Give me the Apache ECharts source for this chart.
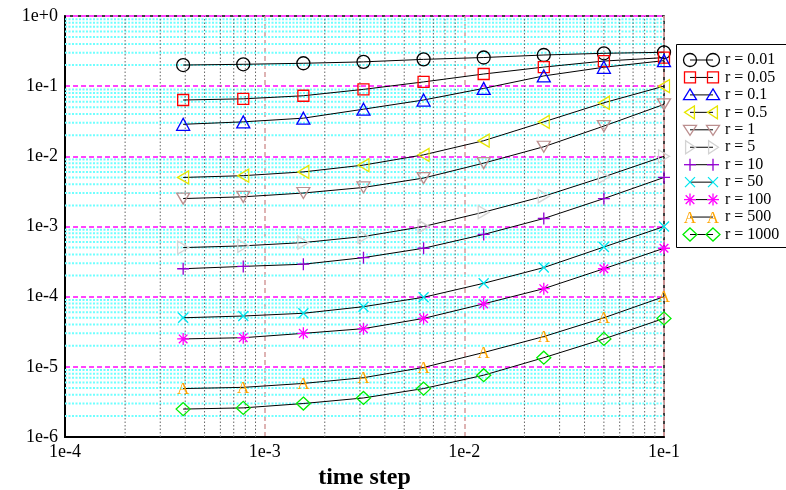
<!DOCTYPE html>
<html>
<head>
<meta charset="utf-8">
<script src="https://cdn.jsdelivr.net/npm/echarts@6/dist/echarts.min.js"></script>
<style>
html,body{margin:0;padding:0;background:#fff;}
#chart{width:786px;height:490px;}
</style>
</head>
<body>
<div id="chart"></div>
<script>
// ---- data ----
const timeSteps = [0.000390625, 0.00078125, 0.0015625, 0.003125, 0.00625, 0.0125, 0.025, 0.05, 0.1];
const seriesNames = ['r = 0.01','r = 0.05','r = 0.1','r = 0.5','r = 1','r = 5','r = 10','r = 50','r = 100','r = 500','r = 1000'];
const r001  = [0.2, 0.205, 0.212, 0.222, 0.241, 0.256, 0.278, 0.294, 0.304];
const r005  = [0.0635, 0.066, 0.073, 0.09, 0.115, 0.149, 0.187, 0.228, 0.255];
const r01   = [0.0286, 0.031, 0.035, 0.047, 0.0635, 0.093, 0.14, 0.186, 0.231];
const r05   = [0.005, 0.0053, 0.006, 0.0075, 0.0105, 0.0167, 0.031, 0.058, 0.1];
const r1    = [0.0025, 0.00265, 0.003, 0.0036, 0.0049, 0.008, 0.0137, 0.027, 0.055];
const r5    = [0.0005, 0.00053, 0.00059, 0.00072, 0.001, 0.0016, 0.0027, 0.0051, 0.01];
const r10   = [0.00025, 0.00027, 0.00029, 0.00036, 0.00049, 0.00077, 0.0013, 0.0025, 0.005];
const r50   = [5e-5, 5.3e-5, 5.8e-5, 7.2e-5, 9.8e-5, 1.55e-4, 2.6e-4, 5.1e-4, 1e-3];
const r100  = [2.5e-5, 2.6e-5, 3e-5, 3.5e-5, 4.9e-5, 7.9e-5, 1.3e-4, 2.5e-4, 4.9e-4];
const r500  = [4.9e-6, 5.1e-6, 5.8e-6, 7e-6, 9.8e-6, 1.6e-5, 2.7e-5, 5e-5, 1e-4];
const r1000 = [2.5e-6, 2.6e-6, 3e-6, 3.6e-6, 4.9e-6, 7.6e-6, 1.35e-5, 2.5e-5, 4.9e-5];
const xDecades = [1e-4, 1e-3, 1e-2, 1e-1];
const yDecades = [1e-6, 1e-5, 1e-4, 1e-3, 1e-2, 1e-1, 1];

const seriesValues = [r001, r005, r01, r05, r1, r5, r10, r50, r100, r500, r1000];
const X_MIN = xDecades[0], X_MAX = xDecades[xDecades.length-1];
const Y_MIN = yDecades[0], Y_MAX = yDecades[yDecades.length-1];

// ---- marker shapes (unit box -1..1) ----
const d = 0.72;
const SH = {
  triUp:   [{pts:[[0,-1],[1,0.8],[-1,0.8]], closed:true}],
  triLeft: [{pts:[[-1,0],[0.8,-1],[0.8,1]], closed:true}],
  triDown: [{pts:[[-1,-0.8],[1,-0.8],[0,1]], closed:true}],
  triRight:[{pts:[[1,0],[-0.8,-1],[-0.8,1]], closed:true}],
  plus:    [{pts:[[0,-1],[0,1]]},{pts:[[-1,0],[1,0]]}],
  cross:   [{pts:[[-1,-1],[1,1]]},{pts:[[-1,1],[1,-1]]}],
  star:    [{pts:[[0,-1],[0,1]]},{pts:[[-1,0],[1,0]]},{pts:[[-d,-d],[d,d]]},{pts:[[-d,d],[d,-d]]}],
  diamond: [{pts:[[0,-1],[1,0],[0,1],[-1,0]], closed:true}]
};
function toPath(shape){
  let s = '';
  shape.forEach(p => {
    p.pts.forEach((pt, k) => { s += (k === 0 ? 'M' : 'L') + pt[0] + ',' + pt[1]; });
    if (p.closed) s += 'Z';
  });
  return 'path://' + s;
}
const markerDefs = [
  {sym:'circle', size:13, color:'#000000'},
  {sym:'rect', size:11, color:'#ff0000'},
  {shape:'triUp', size:[13,12], color:'#0000ff'},
  {shape:'triLeft', size:[11,13], color:'#e6e600'},
  {shape:'triDown', size:[13,11], color:'#bc8f8f'},
  {shape:'triRight', size:[11,13], color:'#d3d3d3'},
  {shape:'plus', size:[12,12], color:'#9400d3'},
  {shape:'cross', size:[10,10], color:'#00e5ee'},
  {shape:'star', size:[12,12], color:'#ff00ff'},
  {sym:'A', color:'#ffa500'},
  {shape:'diamond', size:[14,13], color:'#00ee00'}
];

function fmtExp(v){
  const e = Math.round(Math.log10(v));
  return '1e' + (e >= 0 ? '+' : '') + e;
}

// minor grid values (2..9 in each decade)
const minorX = [], minorY = [];
for (let k = -4; k <= -2; k++) for (let m = 2; m <= 9; m++) minorX.push(m * Math.pow(10, k));
for (let k = -6; k <= -1; k++) for (let m = 2; m <= 9; m++) minorY.push(m * Math.pow(10, k));

const series = [
  {
    type:'custom', silent:true, z:1, animation:false, clip:true,
    data: minorY.map(v => [X_MIN, v]),
    renderItem: function(params, api){
      const v = api.value(1);
      const p1 = api.coord([X_MIN, v]), p2 = api.coord([X_MAX, v]);
      return {type:'line', shape:{x1:p1[0], y1:p1[1], x2:p2[0], y2:p2[1]},
        style:{stroke:'#70ffff', lineWidth:2, lineDash:[2,1.5]}};
    }
  },
  {
    type:'custom', silent:true, z:1, animation:false, clip:true,
    data: minorX.map(v => [v, Y_MIN]),
    renderItem: function(params, api){
      const v = api.value(0);
      const p1 = api.coord([v, Y_MIN]), p2 = api.coord([v, Y_MAX]);
      return {type:'line', shape:{x1:p1[0], y1:p1[1], x2:p2[0], y2:p2[1]},
        style:{stroke:'#666666', lineWidth:1, lineDash:[1.5,2]}};
    }
  }
];

seriesValues.forEach((vals, i) => {
  const md = markerDefs[i];
  const s = {
    name: seriesNames[i],
    type:'line',
    z: 3,
    data: timeSteps.map((t, k) => [t, vals[k]]),
    lineStyle:{color:'#000', width:1},
    animation:false
  };
  if (md.sym === 'A') {
    s.symbol = 'circle';
    s.symbolSize = 1;
    s.itemStyle = {color:'rgba(0,0,0,0)'};
    s.label = {show:true, position:'inside', formatter:'A', color:md.color, fontSize:17,
      fontFamily:'Liberation Serif', offset:[0,1]};
  } else {
    s.symbol = md.sym ? md.sym : toPath(SH[md.shape]);
    s.symbolSize = md.size;
    s.itemStyle = {color:'rgba(0,0,0,0)', borderColor:md.color, borderWidth:1.3};
  }
  series.push(s);
});

// ---- legend (graphic) ----
const graphics = [{
  type:'rect', shape:{x:676.5, y:44.5, width:130, height:203},
  style:{fill:'#fff', stroke:'#000', lineWidth:1}, z:10
}];
function legendMarker(md, cx, cy){
  const out = [];
  const st = {fill:'none', stroke:md.color, lineWidth:1.3};
  if (md.sym === 'circle') { out.push({type:'circle', shape:{cx, cy, r:6.5}, style:st, z:12}); return out; }
  if (md.sym === 'rect') { out.push({type:'rect', shape:{x:cx-5.5, y:cy-5.5, width:11, height:11}, style:st, z:12}); return out; }
  if (md.sym === 'A') { out.push({type:'text', x:cx, y:cy+1, style:{text:'A', fill:md.color, fontSize:17, fontFamily:'Liberation Serif', align:'center', verticalAlign:'middle'}, z:12}); return out; }
  const hw = md.size[0]/2, hh = md.size[1]/2;
  SH[md.shape].forEach(p => {
    const pts = p.pts.map(pt => [cx + pt[0]*hw, cy + pt[1]*hh]);
    out.push({type: p.closed ? 'polygon' : 'polyline', shape:{points:pts}, style:st, z:12});
  });
  return out;
}
seriesNames.forEach((name, i) => {
  const cy = 60 + i * 17.45;
  const md = markerDefs[i];
  graphics.push({type:'line', shape:{x1:690, y1:cy, x2:713, y2:cy}, style:{stroke:'#000', lineWidth:1}, z:11});
  legendMarker(md, 690, cy).forEach(g => graphics.push(g));
  legendMarker(md, 713, cy).forEach(g => graphics.push(g));
  graphics.push({type:'text', x:725, y:cy, style:{text:name, fill:'#000', fontSize:16, fontFamily:'Liberation Serif', align:'left', verticalAlign:'middle'}, z:12});
});

const chart = echarts.init(document.getElementById('chart'), null, {renderer:'canvas'});
chart.setOption({
  animation:false,
  backgroundColor:'#fff',
  grid:{left:65, right:122, top:16, bottom:53, containLabel:false, outerBoundsMode:'none',
    show:true, borderColor:'#000', borderWidth:1.5, backgroundColor:'transparent'},
  xAxis:{
    type:'log', logBase:10, min:X_MIN, max:X_MAX,
    name:'time step', nameLocation:'middle', nameGap:27,
    nameTextStyle:{fontSize:24, fontWeight:'bold', fontFamily:'Liberation Serif', color:'#000'},
    axisLine:{show:true, lineStyle:{color:'#000', width:2}},
    axisTick:{show:false},
    axisLabel:{formatter:fmtExp, fontSize:18, fontFamily:'Liberation Serif', color:'#000', margin:6, showMinLabel:true, showMaxLabel:true},
    splitLine:{show:true, lineStyle:{color:'#d49a9a', width:1.5, type:[5,3]}}
  },
  yAxis:{
    type:'log', logBase:10, min:Y_MIN, max:Y_MAX,
    axisLine:{show:true, lineStyle:{color:'#000', width:2}},
    axisTick:{show:false},
    axisLabel:{formatter:fmtExp, fontSize:18, fontFamily:'Liberation Serif', color:'#000', margin:7, showMinLabel:true, showMaxLabel:true},
    splitLine:{show:true, lineStyle:{color:'#ff44ff', width:2, type:[5,3]}}
  },
  series: series,
  graphic: graphics
});
</script>
</body>
</html>
